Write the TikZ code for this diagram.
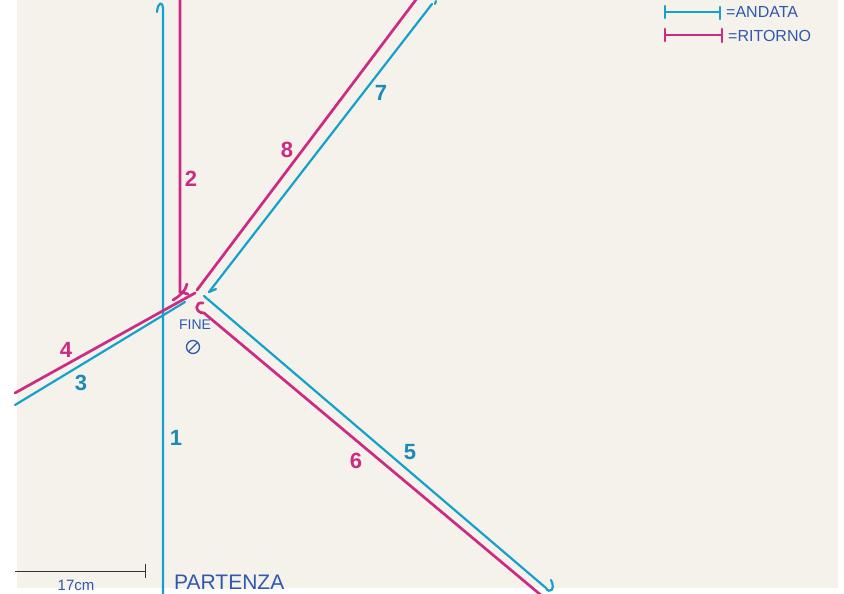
\documentclass[tikz,border=0pt]{standalone}
\usepackage{fontspec}
\setmainfont{Liberation Sans}
\definecolor{paper}{RGB}{244,242,234}
\definecolor{andata}{RGB}{22,160,205}
\definecolor{ritorno}{RGB}{205,42,132}
\definecolor{pen}{RGB}{48,88,175}
\definecolor{numblue}{RGB}{28,138,182}
\begin{document}
\begin{tikzpicture}[x=1pt,y=-1pt,
  andataline/.style={draw=andata, line width=2.2pt, line cap=round},
  ritornoline/.style={draw=ritorno, line width=2.7pt, line cap=round},
  numA/.style={text=numblue, inner sep=0pt, font=\fontsize{22}{22}\selectfont\bfseries},
  numR/.style={text=ritorno, inner sep=0pt, font=\fontsize{22}{22}\selectfont\bfseries},
  pentext/.style={text=pen, inner sep=0pt, anchor=west}]
\useasboundingbox (0,0) rectangle (844,594);
\fill[white] (0,0) rectangle (844,594);
\fill[paper] (17,0) rectangle (838,588);

% coordinates
\coordinate (b1s) at (163,594); \coordinate (b1e) at (163,8);
\coordinate (r2s) at (180,-2);  \coordinate (r2e) at (180,292);
\coordinate (r2t) at (188,294);
\coordinate (r8s) at (197,290); \coordinate (r8e) at (418,-3);
\coordinate (b7s) at (209,292); \coordinate (b7e) at (432,4);
\coordinate (r4s) at (15,393);  \coordinate (r4e) at (195,293);
\coordinate (b3s) at (15,405);  \coordinate (b3e) at (185,302);
\coordinate (b5s) at (204,296); \coordinate (b5e) at (546,588);
\coordinate (r6s) at (204,313); \coordinate (r6e) at (542,596);

% andata (blue)
\draw[andataline] (b1s) -- (b1e) .. controls (163,2) and (158,1) .. (157,12);
\draw[andataline] (b7s) -- (b7e);
\draw[andataline] (b7s) -- ++(7,-3);
\draw[andataline] (b7e) ++(3,0) -- ++(1,-3);
\draw[andataline] (b3s) -- (b3e);
\draw[andataline] (b5s) -- (b5e) .. controls (549,594) and (556,590) .. (551,580);

% ritorno (magenta)
\draw[ritornoline] (r2s) -- (r2e) -- (r2t);
\draw[ritornoline] (173,300) .. controls (180,296) and (186,290) .. (187,284);
\draw[ritornoline] (r8s) -- (r8e);
\draw[ritornoline] (r4s) -- (r4e);
\draw[ritornoline] (203,303) .. controls (195,301) and (194,313) .. (r6s) -- (r6e);

% numbers
\node[numA] (n1) at (176,438) {1};
\node[numR] (n2) at (191,179) {2};
\node[numA] (n3) at (81,383) {3};
\node[numR] (n4) at (66,350) {4};
\node[numA] (n5) at (410,452) {5};
\node[numR] (n6) at (356,461) {6};
\node[numA] (n7) at (381,93) {7};
\node[numR] (n8) at (287,150) {8};

% FINE and start
\node[text=pen, inner sep=0pt, font=\fontsize{14}{14}\selectfont] (fine) at (195,325) {FINE};
\draw[pen, line width=1.3pt] (193,347) circle (6.5);
\draw[pen, line width=1.3pt] (188.5,351.5) -- (197.5,342.5);
\node[pentext, font=\fontsize{21}{21}\selectfont] (start) at (174,582) {PARTENZA};

% scale bar
\coordinate (sb1) at (15,571); \coordinate (sb2) at (145,571);
\draw[black!80, line width=1pt] (sb1) -- (sb2);
\draw[black!80, line width=1pt] (145,564) -- (145,578);
\node[text=pen, inner sep=0pt, font=\fontsize{15}{15}\selectfont] (sbl) at (76,585) {17cm};

% legend
\coordinate (la1) at (665,12); \coordinate (la2) at (720,12);
\draw[andataline] (la1) -- (la2);
\draw[andataline] (665,6) -- (665,18);
\draw[andataline] (720,7) -- (720,19);
\node[pentext, font=\fontsize{16}{16}\selectfont] (lat) at (726,12) {=ANDATA};
\coordinate (lr1) at (665,35); \coordinate (lr2) at (722,35);
\draw[ritornoline] (lr1) -- (lr2);
\draw[ritornoline] (665,29) -- (665,41);
\draw[ritornoline] (722,29) -- (722,42);
\node[pentext, font=\fontsize{16}{16}\selectfont] (lrt) at (728,36) {=RITORNO};
\end{tikzpicture}
\end{document}
